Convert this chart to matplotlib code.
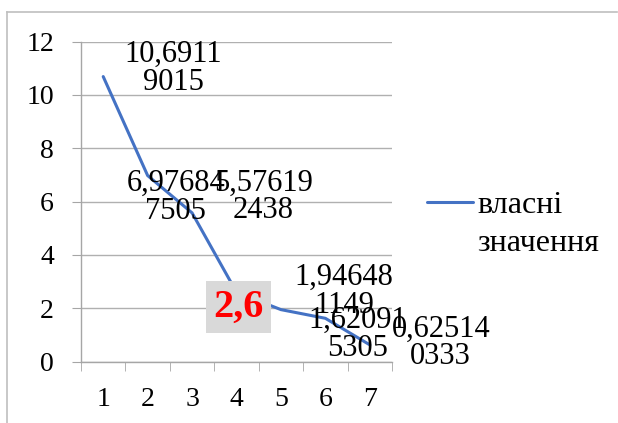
import matplotlib
matplotlib.use('Agg')
import matplotlib.pyplot as plt
from matplotlib.lines import Line2D

plt.rcParams['font.family'] = ['Liberation Serif', 'DejaVu Serif']

x = [1, 2, 3, 4, 5, 6, 7]
vals = [10.69119015, 6.976847505, 5.576192438, 2.6, 1.946481149, 1.620915305, 0.625140333]
labels = ['10,6911\n9015', '6,97684\n7505', '5,57619\n2438', '2,6',
          '1,94648\n1149', '1,62091\n5305', '0,62514\n0333']
# label offsets in pixels (dx, dy) from each point
offsets = [(70, 8), (28, -22), (71, 16), (2, -15), (63, 18), (32, -16), (71, 2)]
series_name = ['власні', 'значення']
yticks = [0, 2, 4, 6, 8, 10, 12]

fig = plt.figure(figsize=(6.18, 4.23), dpi=100)
ax = fig.add_axes([81/618, 1-361.5/423, (392-81)/618, (361.5-41.7)/423])

line, = ax.plot(x, vals, color='#4472C4', lw=2.2, solid_capstyle='round')

ax.set_xlim(0.5, 7.5)
ax.set_ylim(0, 12)
ax.set_yticks(yticks)
ax.set_xticks(x)
ax.set_xticks([i + 0.5 for i in range(0, 8)], minor=True)
ax.grid(axis='y', color='#b0b0b0', lw=1)
ax.set_axisbelow(True)
for s in ['top', 'right']:
    ax.spines[s].set_visible(False)
for s in ['left', 'bottom']:
    ax.spines[s].set_color('#a6a6a6')
    ax.spines[s].set_linewidth(1)
ax.tick_params(axis='y', length=6.5, color='#a6a6a6', pad=13, labelsize=20)
ax.tick_params(axis='x', which='major', length=0, pad=18, labelsize=20)
ax.tick_params(axis='x', which='minor', length=6.5, color='#a6a6a6')

for xi, v, lab, (dx, dy) in zip(x, vals, labels, offsets):
    if lab == '2,6':
        ax.annotate(lab, (xi, v), xytext=(dx, dy), textcoords='offset pixels',
                    ha='center', va='center', fontsize=29, fontweight='bold',
                    color='#FF0000',
                    bbox=dict(facecolor='#d9d9d9', edgecolor='none', pad=5.5))
    else:
        ax.annotate(lab, (xi, v), xytext=(dx, dy), textcoords='offset pixels',
                    ha='center', va='center', fontsize=22, linespacing=0.95,
                    color='black')

fig.legend([line], [series_name[0]], loc='upper left',
           bbox_to_anchor=(427/618, 1-191/423), frameon=False, fontsize=23,
           borderpad=0, borderaxespad=0, handlelength=1.45, handletextpad=0.12)
fig.text(477/618, 1-251/423, series_name[1], fontsize=23, ha='left', va='baseline')

# outer chart frame (top and left)
fig.add_artist(Line2D([7/618, 7/618], [0, 1-12/423], color='#bfbfbf', lw=1.2))
fig.add_artist(Line2D([7/618, 617/618], [1-12/423, 1-12/423], color='#bfbfbf', lw=1.2))

fig.savefig('out.png', dpi=100)
